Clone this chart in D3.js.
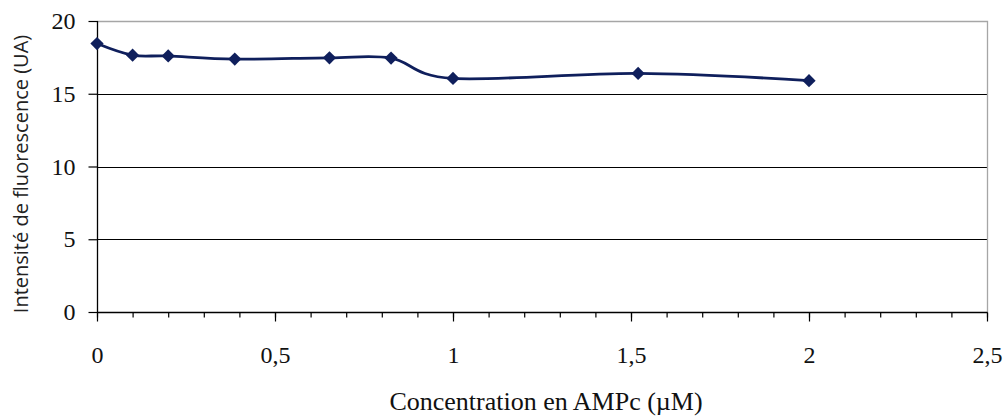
<!DOCTYPE html>
<html>
<head>
<meta charset="utf-8">
<script src="https://cdn.jsdelivr.net/npm/d3@7"></script>
<style>
  html, body { margin: 0; padding: 0; background: #fff; }
  svg { display: block; }
</style>
</head>
<body>
<svg id="chart" width="1006" height="417"></svg>
<script>
// ---- data ----
const concentrations = [0, 0.1, 0.2, 0.387, 0.653, 0.826, 1.0, 1.52, 2.0];
const intensities    = [18.45, 17.65, 17.6, 17.38, 17.47, 17.45, 16.05, 16.4, 15.9];
const xTickValues = [0, 0.5, 1, 1.5, 2, 2.5];
const xTickLabels = ["0", "0,5", "1", "1,5", "2", "2,5"];
const yTickValues = [0, 5, 10, 15, 20];
const yTickLabels = ["0", "5", "10", "15", "20"];
const xTitle = "Concentration en AMPc (µM)";
const yTitle = "Intensité de fluorescence (UA)";

const svg = d3.select("#chart");
const W = 1006, H = 417;
const pLeft = 97, pRight = 987, pTop = 21, pBottom = 312;

const x = d3.scaleLinear().domain([0, 2.5]).range([pLeft, pRight]);
const y = d3.scaleLinear().domain([0, 20]).range([pBottom, pTop]);

svg.append("rect").attr("width", W).attr("height", H).attr("fill", "#fff");

// gridlines (black)
svg.append("g")
  .selectAll("line")
  .data(yTickValues.filter(v => v > 0 && v < 20))
  .join("line")
  .attr("x1", pLeft).attr("x2", pRight)
  .attr("y1", d => Math.round(y(d)) + 0.5).attr("y2", d => Math.round(y(d)) + 0.5)
  .attr("stroke", "#000").attr("stroke-width", 1.2);

// plot border top/right (gray)
svg.append("path")
  .attr("d", `M${pLeft},${pTop + 0.5}H${pRight + 0.5}V${pBottom}`)
  .attr("fill", "none").attr("stroke", "#a6a6a6").attr("stroke-width", 1.3);

// y axis
const yAxis = d3.axisLeft(y).tickValues(yTickValues)
  .tickFormat((d, i) => yTickLabels[i]).tickSize(9).tickPadding(13);
const gy = svg.append("g").attr("transform", `translate(${pLeft + 0.5},0)`).call(yAxis);
gy.select(".domain").attr("stroke", "#000").attr("stroke-width", 1.3).attr("d", `M0,${pTop}V${pBottom + 0.5}`);
gy.selectAll(".tick line").attr("stroke", "#000").attr("stroke-width", 1.2);
gy.selectAll(".tick text")
  .attr("font-family", "'Liberation Serif', 'Times New Roman', serif")
  .attr("font-size", 24).attr("fill", "#111");

// x axis minor ticks
const minorTicks = d3.range(0, 26).map(i => i / 10);
const xMinor = d3.axisBottom(x).tickValues(minorTicks).tickSize(5).tickFormat("");
const gxm = svg.append("g").attr("transform", `translate(0,${pBottom + 0.5})`).call(xMinor);
gxm.select(".domain").remove();
gxm.selectAll(".tick line").attr("stroke", "#000").attr("stroke-width", 1.2);

// x axis major
const xAxis = d3.axisBottom(x).tickValues(xTickValues)
  .tickFormat((d, i) => xTickLabels[i]).tickSize(9).tickPadding(24);
const gx = svg.append("g").attr("transform", `translate(0,${pBottom + 0.5})`).call(xAxis);
gx.select(".domain").attr("stroke", "#000").attr("stroke-width", 1.3).attr("d", `M${pLeft},0H${pRight + 0.5}`);
gx.selectAll(".tick line").attr("stroke", "#000").attr("stroke-width", 1.2);
gx.selectAll(".tick text")
  .attr("font-family", "'Liberation Serif', 'Times New Roman', serif")
  .attr("font-size", 24).attr("fill", "#111");

// titles
svg.append("text")
  .attr("x", (pLeft + pRight) / 2 + 4).attr("y", 410)
  .attr("text-anchor", "middle")
  .attr("font-family", "'Liberation Serif', 'Times New Roman', serif")
  .attr("font-size", 26).attr("fill", "#111")
  .text(xTitle);

svg.append("text")
  .attr("transform", "translate(28,174) rotate(-90)")
  .attr("text-anchor", "middle")
  .attr("font-family", "'Open Sans', sans-serif")
  .attr("font-size", 20).attr("fill", "#222")
  .text(yTitle);

// series
const data = concentrations.map((c, i) => ({ c, v: intensities[i] }));
const lineColor = "#0f1f5c";
const line = d3.line().x(d => x(d.c)).y(d => y(d.v)).curve(d3.curveCardinal.tension(0));
svg.append("path").datum(data)
  .attr("d", line).attr("fill", "none")
  .attr("stroke", lineColor).attr("stroke-width", 2.8).attr("stroke-linejoin", "round");

const diamond = d3.symbol().type(d3.symbolSquare).size(88);
svg.append("g").selectAll("path").data(data).join("path")
  .attr("d", diamond)
  .attr("transform", d => `translate(${x(d.c)},${y(d.v)}) rotate(45)`)
  .attr("fill", lineColor);
</script>
</body>
</html>
